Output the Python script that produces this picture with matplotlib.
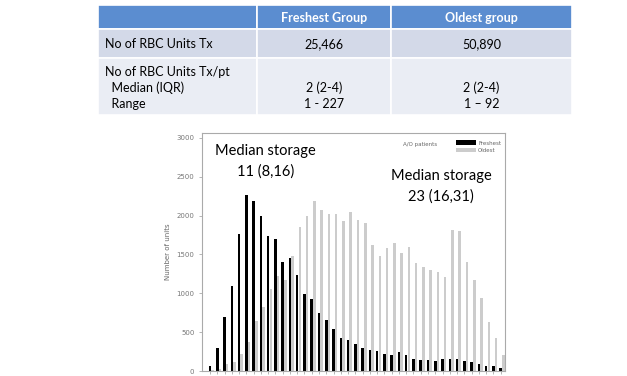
import matplotlib.pyplot as plt
import matplotlib.patches as mpatches

# table contents
col_headers = ['', 'Freshest Group', 'Oldest group']
row1 = ['No of RBC Units Tx', '25,466', '50,890']
row2_labels = ['No of RBC Units Tx/pt', '  Median (IQR)', '  Range']
fresh_pt = ['2 (2-4)', '1 - 227']
oldest_pt = ['2 (2-4)', '1 \u2013 92']

# histogram of storage age (units per day of storage)
freshest = [60, 290, 690, 1090, 1770, 2265, 2190, 1990, 1735, 1700,
            1405, 1450, 1235, 995, 925, 745, 655, 545, 425, 395,
            350, 295, 275, 255, 220, 200, 245, 200, 160, 140,
            140, 130, 160, 155, 155, 125, 115, 85, 70, 60, 35]
oldest = [10, 20, 95, 120, 215, 370, 640, 830, 1055, 1220,
          1175, 1480, 1850, 1995, 2195, 2070, 2015, 2015, 1925, 2050,
          1940, 1910, 1625, 1480, 1580, 1645, 1515, 1600, 1395, 1335,
          1300, 1280, 1215, 1820, 1805, 1400, 1170, 945, 630, 420, 205]

W, H = 627, 376
fig = plt.figure(figsize=(W / 100, H / 100), dpi=100)
fnt = 'Lato'

# --- table drawn in pixel coordinates ---
tab = fig.add_axes([0, 0, 1, 1])
tab.set_xlim(0, W)
tab.set_ylim(H, 0)
tab.axis('off')

cols = [98, 257, 391, 572]
rows = [5, 29, 58, 115]
fills = ['#5b8dd0', '#d3d9e8', '#eaedf4']
for r in range(3):
    for c in range(3):
        tab.add_patch(mpatches.Rectangle((cols[c], rows[r]), cols[c + 1] - cols[c],
                                         rows[r + 1] - rows[r], facecolor=fills[r],
                                         edgecolor='white', lw=1.2))

for c in (1, 2):
    tab.text((cols[c] + cols[c + 1]) / 2, 17.5, col_headers[c], ha='center', va='center',
             color='white', fontsize=9, fontweight='bold', family=fnt)

tab.text(105, 44, row1[0], ha='left', va='center', fontsize=9, family=fnt)
tab.text((cols[1] + cols[2]) / 2, 44, row1[1], ha='center', va='center', fontsize=9, family=fnt)
tab.text((cols[2] + cols[3]) / 2, 44, row1[2], ha='center', va='center', fontsize=9, family=fnt)

for lab, yy in zip(row2_labels, [72, 88, 104]):
    tab.text(105, yy, lab, ha='left', va='center', fontsize=9, family=fnt)
for k, yy in enumerate([88, 104]):
    tab.text((cols[1] + cols[2]) / 2, yy, fresh_pt[k], ha='center', va='center', fontsize=9, family=fnt)
    tab.text((cols[2] + cols[3]) / 2, yy, oldest_pt[k], ha='center', va='center', fontsize=9, family=fnt)

# --- bar chart ---
ax = fig.add_axes([202 / W, 5 / H, 303 / W, 238 / H])
x = list(range(len(freshest)))
ax.bar([i + 0.37 for i in x], oldest, width=0.35, color='#cccccc', label='Oldest')
ax.bar(x, freshest, width=0.35, color='black', label='Freshest')
ax.set_xlim(-1.1, 40.6)
ax.set_ylim(0, 3064)
ax.set_yticks([0, 500, 1000, 1500, 2000, 2500, 3000])
ax.set_xticks(x)
ax.set_xticklabels([])
ax.tick_params(axis='y', labelsize=5, length=2, width=0.5, colors='#999999')
ax.tick_params(axis='x', length=2, width=0.5, colors='#999999')
for lbl in ax.get_yticklabels():
    lbl.set_color('#777777')
for s in ax.spines.values():
    s.set_color('#aaaaaa')
    s.set_linewidth(0.8)
ax.set_ylabel('Number of units', fontsize=5, color='#666666', labelpad=4)

h, l = ax.get_legend_handles_labels()
ax.legend(h[::-1], l[::-1], loc='upper right', bbox_to_anchor=(1.0, 0.985), fontsize=4,
          frameon=False, handlelength=3.5, handleheight=0.9, handletextpad=0.4,
          labelspacing=0.35, borderaxespad=0.3, labelcolor='#666666')
ax.text(0.776, 0.95, 'A/O patients', transform=ax.transAxes, ha='right', va='center',
        fontsize=4, color='#666666')

ax.text(0.21, 0.925, 'Median storage', transform=ax.transAxes, ha='center', va='center',
        fontsize=10.5, family=fnt)
ax.text(0.21, 0.84, '11 (8,16)', transform=ax.transAxes, ha='center', va='center',
        fontsize=10.5, family=fnt)
ax.text(0.79, 0.82, 'Median storage', transform=ax.transAxes, ha='center', va='center',
        fontsize=10.5, family=fnt)
ax.text(0.79, 0.735, '23 (16,31)', transform=ax.transAxes, ha='center', va='center',
        fontsize=10.5, family=fnt)

fig.savefig('out.png', dpi=100)
